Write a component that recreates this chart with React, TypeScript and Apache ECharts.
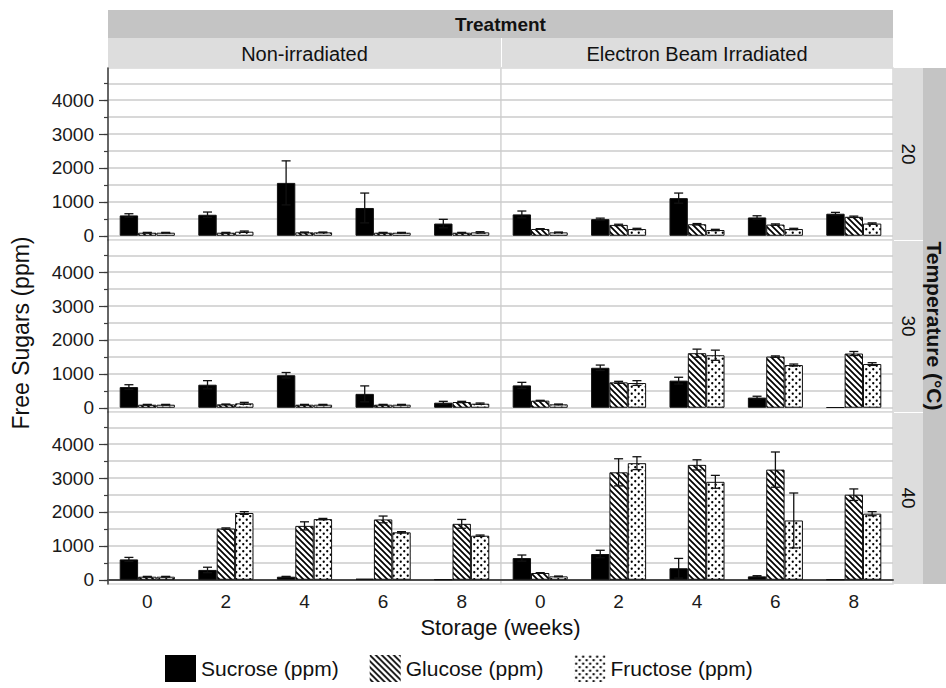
import React, { useEffect, useRef } from 'react';
import * as echarts from 'echarts';

// ---- categories & labels ----
const weeks = ['0', '2', '4', '6', '8'];
const treatments = ['Non-irradiated', 'Electron Beam Irradiated'];
const temperatures = ['20', '30', '40'];
const sugars = ['Sucrose (ppm)', 'Glucose (ppm)', 'Fructose (ppm)'];
const yLabelValues = [0, 1000, 2000, 3000, 4000];
const yMinorValues = [0, 500, 1000, 1500, 2000, 2500, 3000, 3500, 4000, 4500];

// ---- Non-irradiated, 20 °C ----
const nonIrr20Sucrose = [600, 620, 1560, 820, 360];
const nonIrr20SucroseErr = [50, 80, 650, 440, 125];
const nonIrr20Glucose = [90, 90, 100, 90, 90];
const nonIrr20GlucoseErr = [10, 10, 10, 10, 10];
const nonIrr20Fructose = [90, 120, 100, 90, 100];
const nonIrr20FructoseErr = [10, 20, 10, 10, 20];

// ---- Electron beam, 20 °C ----
const ebeam20Sucrose = [630, 490, 1110, 540, 650];
const ebeam20SucroseErr = [100, 30, 150, 50, 40];
const ebeam20Glucose = [200, 320, 340, 330, 560];
const ebeam20GlucoseErr = [10, 20, 20, 20, 20];
const ebeam20Fructose = [100, 200, 170, 200, 360];
const ebeam20FructoseErr = [10, 20, 20, 20, 20];

// ---- Non-irradiated, 30 °C ----
const nonIrr30Sucrose = [610, 680, 960, 410, 150];
const nonIrr30SucroseErr = [70, 120, 80, 235, 40];
const nonIrr30Glucose = [90, 100, 90, 90, 170];
const nonIrr30GlucoseErr = [10, 10, 10, 10, 20];
const nonIrr30Fructose = [90, 130, 90, 90, 120];
const nonIrr30FructoseErr = [10, 30, 10, 10, 20];

// ---- Electron beam, 30 °C ----
const ebeam30Sucrose = [660, 1180, 800, 300, 15];
const ebeam30SucroseErr = [90, 80, 100, 40, 0];
const ebeam30Glucose = [210, 750, 1610, 1510, 1600];
const ebeam30GlucoseErr = [10, 30, 120, 20, 60];
const ebeam30Fructose = [100, 730, 1550, 1260, 1290];
const ebeam30FructoseErr = [10, 70, 150, 30, 40];

// ---- Non-irradiated, 40 °C ----
const nonIrr40Sucrose = [600, 290, 90, 30, 10];
const nonIrr40SucroseErr = [60, 80, 10, 0, 0];
const nonIrr40Glucose = [90, 1510, 1590, 1780, 1650];
const nonIrr40GlucoseErr = [10, 20, 120, 100, 130];
const nonIrr40Fructose = [90, 1970, 1790, 1400, 1300];
const nonIrr40FructoseErr = [10, 40, 20, 20, 20];

// ---- Electron beam, 40 °C ----
const ebeam40Sucrose = [640, 760, 340, 100, 10];
const ebeam40SucroseErr = [90, 110, 290, 20, 0];
const ebeam40Glucose = [200, 3170, 3390, 3250, 2510];
const ebeam40GlucoseErr = [10, 400, 150, 520, 170];
const ebeam40Fructose = [100, 3440, 2890, 1750, 1950];
const ebeam40FructoseErr = [10, 190, 190, 810, 60];

// facet table: row = temperature, col = treatment
const panels = [
  { row: 0, col: 0, means: [nonIrr20Sucrose, nonIrr20Glucose, nonIrr20Fructose], errs: [nonIrr20SucroseErr, nonIrr20GlucoseErr, nonIrr20FructoseErr] },
  { row: 0, col: 1, means: [ebeam20Sucrose, ebeam20Glucose, ebeam20Fructose], errs: [ebeam20SucroseErr, ebeam20GlucoseErr, ebeam20FructoseErr] },
  { row: 1, col: 0, means: [nonIrr30Sucrose, nonIrr30Glucose, nonIrr30Fructose], errs: [nonIrr30SucroseErr, nonIrr30GlucoseErr, nonIrr30FructoseErr] },
  { row: 1, col: 1, means: [ebeam30Sucrose, ebeam30Glucose, ebeam30Fructose], errs: [ebeam30SucroseErr, ebeam30GlucoseErr, ebeam30FructoseErr] },
  { row: 2, col: 0, means: [nonIrr40Sucrose, nonIrr40Glucose, nonIrr40Fructose], errs: [nonIrr40SucroseErr, nonIrr40GlucoseErr, nonIrr40FructoseErr] },
  { row: 2, col: 1, means: [ebeam40Sucrose, ebeam40Glucose, ebeam40Fructose], errs: [ebeam40SucroseErr, ebeam40GlucoseErr, ebeam40FructoseErr] },
];

// ---- layout ----
const FONT = "'Liberation Sans', Arial, Helvetica, sans-serif";
const COL_LEFT = [108, 501];
const COL_WIDTH = [393, 392];
const ROW_TOP = [68, 240, 412];
const ROW_HEIGHT = 172;
const Y_MIN = -125;
const Y_MAX = 4950;
const BAR_FRACTION = 0.234;
const PLOT_RIGHT = 893;
const PLOT_BOTTOM = ROW_TOP[2] + ROW_HEIGHT;

function hatchTile(): HTMLCanvasElement {
  const s = 6;
  const c = document.createElement('canvas');
  c.width = s;
  c.height = s;
  const g = c.getContext('2d')!;
  g.fillStyle = '#ffffff';
  g.fillRect(0, 0, s, s);
  g.strokeStyle = '#000000';
  g.lineWidth = 1.7;
  g.beginPath();
  g.moveTo(-1, -1);
  g.lineTo(s + 1, s + 1);
  g.moveTo(-1, s - 1);
  g.lineTo(1, s + 1);
  g.moveTo(s - 1, -1);
  g.lineTo(s + 1, 1);
  g.stroke();
  return c;
}

function dotTile(): HTMLCanvasElement {
  const s = 7;
  const c = document.createElement('canvas');
  c.width = s;
  c.height = s;
  const g = c.getContext('2d')!;
  g.fillStyle = '#ffffff';
  g.fillRect(0, 0, s, s);
  g.fillStyle = '#000000';
  for (const [x, y] of [[1.75, 1.75], [5.25, 5.25]]) {
    g.beginPath();
    g.arc(x, y, 1.15, 0, Math.PI * 2);
    g.fill();
  }
  return c;
}

function buildOption(): any {
  const fills: any[] = [
    '#000000',
    { image: hatchTile(), repeat: 'repeat' },
    { image: dotTile(), repeat: 'repeat' },
  ];

  const grid: any[] = [];
  const xAxis: any[] = [];
  const yAxis: any[] = [];
  const series: any[] = [];

  panels.forEach((p, gi) => {
    grid.push({
      left: COL_LEFT[p.col],
      top: ROW_TOP[p.row],
      width: COL_WIDTH[p.col],
      height: ROW_HEIGHT,
      show: true,
      backgroundColor: '#ffffff',
      borderColor: '#d8d8d8',
      borderWidth: 1.5,
      outerBoundsMode: 'none',
    });
    const bottomRow = p.row === 2;
    const leftCol = p.col === 0;
    xAxis.push({
      gridIndex: gi,
      type: 'category',
      data: weeks,
      boundaryGap: true,
      axisLine: { show: bottomRow, lineStyle: { color: '#4a4a4a', width: 2 } },
      axisTick: { show: false },
      axisLabel: { show: bottomRow, fontSize: 19, color: '#1a1a1a', margin: 8, fontFamily: FONT },
      splitLine: { show: false },
    });
    const mainY = yAxis.length;
    yAxis.push({
      gridIndex: gi,
      type: 'value',
      position: 'left',
      min: Y_MIN,
      max: Y_MAX,
      splitNumber: 10,
      axisLine: { show: leftCol, lineStyle: { color: '#3c3c3c', width: 1.5 } },
      axisTick: { show: leftCol, customValues: yMinorValues, length: 4, lineStyle: { color: '#3c3c3c', width: 1.2 } },
      axisLabel: {
        show: leftCol,
        customValues: yLabelValues,
        formatter: (v: number) => String(Math.round(v)),
        margin: 14,
        fontSize: 19,
        color: '#1a1a1a',
        fontFamily: FONT,
      },
      splitLine: { show: true, lineStyle: { color: '#cbcbcb', width: 1.5 } },
    });
    if (leftCol) {
      // longer ticks at the labelled thousands
      yAxis.push({
        gridIndex: gi,
        type: 'value',
        position: 'left',
        offset: 0,
        min: Y_MIN,
        max: Y_MAX,
        axisLine: { show: false },
        axisTick: { show: true, customValues: yLabelValues, length: 9, lineStyle: { color: '#3c3c3c', width: 1.2 } },
        axisLabel: { show: false },
        splitLine: { show: false },
      });
    }

    sugars.forEach((name, k) => {
      series.push({
        type: 'bar',
        name,
        xAxisIndex: gi,
        yAxisIndex: mainY,
        data: p.means[k],
        barWidth: `${BAR_FRACTION * 100}%`,
        barGap: '0%',
        z: 2,
        itemStyle: { color: fills[k], borderColor: '#111111', borderWidth: 1 },
        emphasis: { disabled: true },
      });
    });

    const errData: number[][] = [];
    sugars.forEach((_, k) => {
      p.means[k].forEach((m, i) => errData.push([i, m, p.errs[k][i], k]));
    });
    series.push({
      type: 'custom',
      xAxisIndex: gi,
      yAxisIndex: mainY,
      z: 3,
      silent: true,
      encode: { x: 0, y: 1 },
      data: errData,
      renderItem: (_params: any, api: any) => {
        const cat = api.value(0);
        const m = api.value(1);
        const e = api.value(2);
        const k = api.value(3);
        if (!e) return null;
        const band = api.size([1, 0])[0];
        const dx = (k - 1) * band * BAR_FRACTION;
        const hi = api.coord([cat, m + e]);
        const lo = api.coord([cat, m - e]);
        const x = hi[0] + dx;
        const cap = 4.5;
        const style = { stroke: '#111111', lineWidth: 1.3 };
        return {
          type: 'group',
          children: [
            { type: 'line', shape: { x1: x, y1: hi[1], x2: x, y2: lo[1] }, style },
            { type: 'line', shape: { x1: x - cap, y1: hi[1], x2: x + cap, y2: hi[1] }, style },
            { type: 'line', shape: { x1: x - cap, y1: lo[1], x2: x + cap, y2: lo[1] }, style },
          ],
        };
      },
    });
  });

  const graphic: any[] = [];
  // column strips
  graphic.push({ type: 'rect', shape: { x: COL_LEFT[0], y: 10, width: PLOT_RIGHT - COL_LEFT[0], height: 28 }, style: { fill: '#c4c4c4' } });
  graphic.push({
    type: 'text', x: (COL_LEFT[0] + PLOT_RIGHT) / 2, y: 24,
    style: { text: 'Treatment', fontSize: 19, fontWeight: 'bold', fontFamily: FONT, fill: '#111', align: 'center', verticalAlign: 'middle' },
  });
  treatments.forEach((t, c) => {
    graphic.push({ type: 'rect', shape: { x: COL_LEFT[c] + (c ? 1 : 0), y: 38, width: COL_WIDTH[c] - (c ? 1 : 0), height: 30 }, style: { fill: '#dddddd' } });
    graphic.push({
      type: 'text', x: COL_LEFT[c] + COL_WIDTH[c] / 2, y: 54,
      style: { text: t, fontSize: 20, fontFamily: FONT, fill: '#111', align: 'center', verticalAlign: 'middle' },
    });
  });
  // row strips
  temperatures.forEach((t, r) => {
    graphic.push({ type: 'rect', shape: { x: PLOT_RIGHT, y: ROW_TOP[r] + (r ? 1 : 0), width: 30, height: ROW_HEIGHT - (r ? 1 : 0) }, style: { fill: '#dddddd' } });
    graphic.push({
      type: 'text', x: PLOT_RIGHT + 15, y: ROW_TOP[r] + ROW_HEIGHT / 2, rotation: -Math.PI / 2,
      style: { text: t, fontSize: 19, fontFamily: FONT, fill: '#111', align: 'center', verticalAlign: 'middle' },
    });
  });
  graphic.push({ type: 'rect', shape: { x: PLOT_RIGHT + 30, y: ROW_TOP[0], width: 23, height: PLOT_BOTTOM - ROW_TOP[0] }, style: { fill: '#c4c4c4' } });
  graphic.push({
    type: 'text', x: PLOT_RIGHT + 41.5, y: (ROW_TOP[0] + PLOT_BOTTOM) / 2, rotation: -Math.PI / 2,
    style: { text: 'Temperature (°C)', fontSize: 21, fontWeight: 'bold', fontFamily: FONT, fill: '#111', align: 'center', verticalAlign: 'middle' },
  });
  // axis titles
  graphic.push({
    type: 'text', x: 21, y: 333, rotation: Math.PI / 2,
    style: { text: 'Free Sugars (ppm)', fontSize: 23, fontFamily: FONT, fill: '#111', align: 'center', verticalAlign: 'middle' },
  });
  graphic.push({
    type: 'text', x: (COL_LEFT[0] + PLOT_RIGHT) / 2, y: 627,
    style: { text: 'Storage (weeks)', fontSize: 22, fontFamily: FONT, fill: '#111', align: 'center', verticalAlign: 'middle' },
  });

  return {
    animation: false,
    backgroundColor: '#ffffff',
    textStyle: { fontFamily: FONT },
    grid,
    xAxis,
    yAxis,
    series,
    graphic,
    legend: {
      data: sugars,
      left: 165,
      top: 655,
      padding: 0,
      orient: 'horizontal',
      icon: 'rect',
      itemWidth: 31,
      itemHeight: 27,
      itemGap: 31,
      selectedMode: false,
      itemStyle: { borderWidth: 0 },
      textStyle: { fontSize: 21, color: '#111', fontFamily: FONT },
    },
  };
}

export default function App() {
  const ref = useRef<HTMLDivElement>(null);
  useEffect(() => {
    if (!ref.current) return;
    const chart = echarts.init(ref.current, undefined, { renderer: 'svg' });
    chart.setOption(buildOption());
    return () => chart.dispose();
  }, []);
  return (
    <div
      ref={ref}
      style={{ position: 'fixed', left: 0, top: 0, width: 946, height: 688, background: '#fff' }}
    />
  );
}
